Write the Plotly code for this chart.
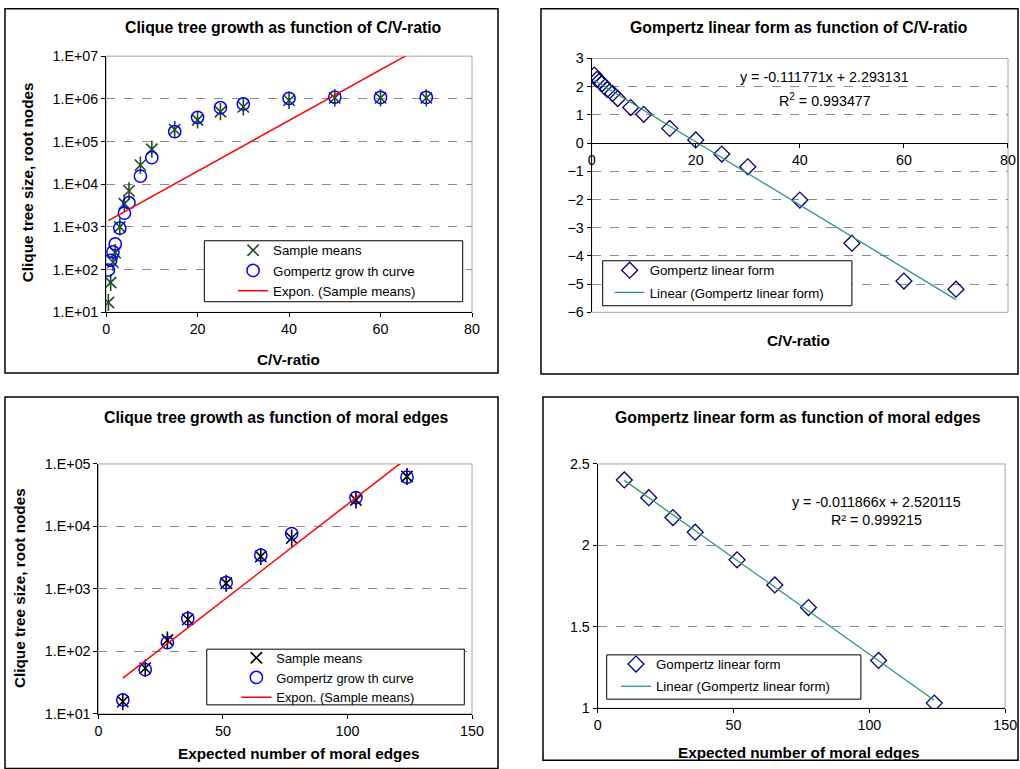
import numpy as np
import plotly.graph_objects as go

# The figure fills the page (body margin removed). Reference pixel coordinates are mapped
# to figure pixels through the capture geometry observed in earlier runs.
W, H = 1020, 769
KX, KY = 1020 / 1036, 769 / 785
S = 1 / KY  # size compensation

# ---------------- data ----------------
cv_ratio = [0.5, 1, 1.5, 2, 3, 4, 5, 7.5, 10, 15, 20, 25, 30, 40, 50, 60, 70]
cv_sample_means = [17, 50, 150, 250, 1000, 3500, 7000, 28000, 66000, 190000, 320000,
                   500000, 650000, 920000, 1050000, 1050000, 1050000]
cv_gompertz = [98, 165, 260, 400, 940, 2100, 3700, 15500, 42000, 170000, 370000,
               620000, 760000, 1030000, 1100000, 1080000, 1080000]
cv_gompertz_linear = [2.41, 2.26, 2.2, 2.11, 1.9, 1.76, 1.58, 1.26, 1.02, 0.52, 0.11,
                      -0.39, -0.84, -2.02, -3.55, -4.89, -5.18]

moral_edges = [9.8, 18.8, 27.7, 35.9, 51.3, 65.2, 77.6, 103.4, 123.9]
me_sample_means = [15.7, 54, 152, 325, 1230, 3300, 6500, 26500, 63000]
me_gompertz = [16.7, 51, 138, 335, 1260, 3480, 7700, 29000, 61500]
me_gompertz_linear = [2.402, 2.293, 2.171, 2.081, 1.911, 1.757, 1.618, 1.293, 1.031]

log_tickvals_7 = [1e1, 1e2, 1e3, 1e4, 1e5, 1e6, 1e7]
log_ticktext_7 = ["1.E+01", "1.E+02", "1.E+03", "1.E+04", "1.E+05", "1.E+06", "1.E+07"]
log_tickvals_5 = [1e1, 1e2, 1e3, 1e4, 1e5]
log_ticktext_5 = ["1.E+01", "1.E+02", "1.E+03", "1.E+04", "1.E+05"]

eq_cv = "y = -0.111771x + 2.293131"
r2_cv = "R<sup>2</sup> = 0.993477"
eq_me = "y = -0.011866x + 2.520115"
r2_me = "R² = 0.999215"

# ---------------- helpers ----------------
FONT = "Liberation Sans, Arial, sans-serif"
def fx(p):
    v = (p / KX - 8) / W
    return min(max(v, 0.0), 1.0)
def fy(p):
    v = 1 - (p / KY - 8) / H
    return min(max(v, 0.0), 1.0)

def exp_fit(x, y):
    x = np.asarray(x, float); y = np.asarray(y, float)
    b, a = np.polyfit(x, np.log(y), 1)
    xs = np.linspace(x.min(), x.max(), 60)
    return xs, np.exp(a + b * xs)

def lin_fit(x, y):
    x = np.asarray(x, float); y = np.asarray(y, float)
    b, a = np.polyfit(x, y, 1)
    xs = np.linspace(x.min(), x.max(), 60)
    return xs, a + b * xs

GREEN_STAR = "#1d4f1d"
BLUE = "#0000ff"
NAVY = "#000080"
TREND_GREEN = "#2e9a66"
MS = 12 * S

fig = go.Figure()

# ---- top-left ----
fig.add_trace(go.Scatter(x=cv_ratio, y=cv_sample_means, mode="markers", name="Sample means",
                         xaxis="x", yaxis="y", legend="legend",
                         marker=dict(symbol="x-thin-open", size=MS - 1, line=dict(color=GREEN_STAR, width=1.6), color=GREEN_STAR)))
fig.add_trace(go.Scatter(x=cv_ratio, y=cv_sample_means, mode="markers", showlegend=False,
                         xaxis="x", yaxis="y",
                         marker=dict(symbol="line-ns-open", size=MS, line=dict(color=GREEN_STAR, width=1.6), color=GREEN_STAR)))
fig.add_trace(go.Scatter(x=cv_ratio, y=cv_gompertz, mode="markers", name="Gompertz grow th curve",
                         xaxis="x", yaxis="y", legend="legend",
                         marker=dict(symbol="circle-open", size=MS, line=dict(color=BLUE, width=1.5), color=BLUE)))
tx, ty = exp_fit(cv_ratio, cv_sample_means)
fig.add_trace(go.Scatter(x=tx, y=ty, mode="lines", name="Expon. (Sample means)",
                         xaxis="x", yaxis="y", legend="legend",
                         line=dict(color="#ff0000", width=1.5)))

# ---- top-right ----
fig.add_trace(go.Scatter(x=cv_ratio, y=cv_gompertz_linear, mode="markers", name="Gompertz linear form",
                         xaxis="x2", yaxis="y2", legend="legend2", legendgroup="a",
                         marker=dict(symbol="diamond-open", size=MS, line=dict(color=NAVY, width=1.3), color=NAVY)))
lx, ly = lin_fit(cv_ratio, cv_gompertz_linear)
fig.add_trace(go.Scatter(x=lx, y=ly, mode="lines", name="Linear (Gompertz linear form)",
                         xaxis="x2", yaxis="y2", legend="legend2", legendgroup="b",
                         line=dict(color=TREND_GREEN, width=1.3)))

# ---- bottom-left ----
fig.add_trace(go.Scatter(x=moral_edges, y=me_sample_means, mode="markers", name="Sample means",
                         xaxis="x3", yaxis="y3", legend="legend3",
                         marker=dict(symbol="x-thin-open", size=MS - 1, line=dict(color="black", width=1.6), color="black")))
fig.add_trace(go.Scatter(x=moral_edges, y=me_sample_means, mode="markers", showlegend=False,
                         xaxis="x3", yaxis="y3",
                         marker=dict(symbol="line-ns-open", size=MS, line=dict(color="black", width=1.6), color="black")))
fig.add_trace(go.Scatter(x=moral_edges, y=me_gompertz, mode="markers", name="Gompertz grow th curve",
                         xaxis="x3", yaxis="y3", legend="legend3",
                         marker=dict(symbol="circle-open", size=MS, line=dict(color=BLUE, width=1.5), color=BLUE)))
tx, ty = exp_fit(moral_edges, me_sample_means)
fig.add_trace(go.Scatter(x=tx, y=ty, mode="lines", name="Expon. (Sample means)",
                         xaxis="x3", yaxis="y3", legend="legend3",
                         line=dict(color="#ff0000", width=1.5)))

# ---- bottom-right ----
fig.add_trace(go.Scatter(x=moral_edges, y=me_gompertz_linear, mode="markers", name="Gompertz linear form",
                         xaxis="x4", yaxis="y4", legend="legend4", legendgroup="a",
                         marker=dict(symbol="diamond-open", size=MS, line=dict(color=NAVY, width=1.3), color=NAVY)))
lx, ly = lin_fit(moral_edges, me_gompertz_linear)
fig.add_trace(go.Scatter(x=lx, y=ly, mode="lines", name="Linear (Gompertz linear form)",
                         xaxis="x4", yaxis="y4", legend="legend4", legendgroup="b",
                         line=dict(color=TREND_GREEN, width=1.3)))

# ---------------- axes ----------------
TF = 14 * S
base = dict(showline=True, linecolor="black", linewidth=1, ticks="outside", ticklen=4,
            tickcolor="black", tickfont=dict(size=TF, color="black", family=FONT),
            zeroline=False, mirror=False)
grid = dict(showgrid=True, gridcolor="#8c8c8c", griddash="dash", gridwidth=1)

TL_y = (fy(312.3), fy(56))
TR_y = (fy(312.3), fy(58.3))
BL_y = (fy(714), fy(464))
BR_y = (fy(708.3), fy(464))

tr_pos = TR_y[0] + (TR_y[1] - TR_y[0]) * 6 / 9

fig.update_layout(
    xaxis=dict(**base, domain=[fx(110), fx(476)], range=[0, 80], tickvals=[0, 20, 40, 60, 80],
               anchor="y", showgrid=False),
    yaxis=dict(**base, **grid, domain=list(TL_y), type="log", range=[1, 7],
               tickvals=log_tickvals_7, ticktext=log_ticktext_7, anchor="x"),
    xaxis2=dict(**base, domain=[fx(595.7), fx(1014)], range=[0, 80],
                tickvals=[0, 20, 40, 60, 80], anchor="free", position=tr_pos, showgrid=False),
    yaxis2=dict(**base, **grid, domain=list(TR_y), range=[-6, 3], tickvals=list(range(-6, 4)),
                anchor="x2"),
    xaxis3=dict(**base, domain=[fx(102.3), fx(476)], range=[0, 150], tickvals=[0, 50, 100, 150],
                anchor="y3", showgrid=False),
    yaxis3=dict(**base, **grid, domain=list(BL_y), type="log", range=[1, 5],
                tickvals=log_tickvals_5, ticktext=log_ticktext_5, anchor="x3"),
    xaxis4=dict(**base, domain=[fx(601.7), fx(1009.3)], range=[0, 150], tickvals=[0, 50, 100, 150],
                anchor="y4", showgrid=False),
    yaxis4=dict(**base, **grid, domain=list(BR_y), range=[1, 2.5], tickvals=[1, 1.5, 2, 2.5],
                anchor="x4"),
)

LF = 13 * S
leg = dict(bgcolor="rgba(0,0,0,0)", borderwidth=0, xanchor="left", yanchor="top",
           font=dict(size=LF, color="black", family=FONT), itemwidth=30)
fig.update_layout(
    legend=dict(**leg, x=fx(237), y=fy(235)),
    legend2=dict(**leg, x=fx(613.7), y=fy(255), tracegroupgap=2),
    legend3=dict(**{**leg, "font": dict(size=12.6 * S, color="black", family=FONT)}, x=fx(240.3), y=fy(643)),
    legend4=dict(**leg, x=fx(620), y=fy(649), tracegroupgap=2),
)

shapes = []
# plot-area borders
for xr, yr in [("x", "y"), ("x2", "y2"), ("x3", "y3"), ("x4", "y4")]:
    shapes.append(dict(type="rect", xref=f"{xr} domain", yref=f"{yr} domain", x0=0, x1=1, y0=0, y1=1,
                       line=dict(color="#a6a6a6", width=1), layer="below"))
# chart-area borders
for (x0, y0, x1, y1) in [(7, 7, 502, 373), (545, 7, 1060, 374), (7, 397, 502, 800), (547, 397, 1060, 768)]:
    shapes.append(dict(type="rect", xref="paper", yref="paper",
                       x0=max(fx(x0), 0.001), x1=fx(x1) if x1 < 1014 else 1.01,
                       y0=fy(y1) if y1 < 760 else -0.01, y1=min(fy(y0), 0.999),
                       line=dict(color="black", width=1.5), layer="below"))
# BR bottom edge at the lowest drawable row
shapes[-1]["y0"] = 0.001
# legend boxes
for (x0, y0, x1, y1) in [(208.3, 240.7, 466.7, 301.7), (606.7, 260.7, 856, 305.7),
                         (210.7, 649.3, 468.3, 705), (610.7, 655, 865, 699.3)]:
    shapes.append(dict(type="rect", xref="paper", yref="paper", x0=fx(x0), x1=fx(x1), y0=fy(y1), y1=fy(y0),
                       line=dict(color="black", width=1), fillcolor="white", layer="above"))
fig.update_layout(shapes=shapes)

ann = []
def text(t, x, y, size=14, bold=False, angle=0):
    ann.append(dict(text=f"<b>{t}</b>" if bold else t, x=fx(x), y=fy(y), xref="paper", yref="paper",
                    showarrow=False, xanchor="center", yanchor="middle", textangle=angle,
                    font=dict(size=size * S, color="black", family=FONT)))

TS = 15.5
text("Clique tree growth as function of C/V-ratio", 287, 27, TS, True)
text("Gompertz linear form as function of C/V-ratio", 803, 27, TS, True)
text("Clique tree growth as function of moral edges", 280, 418, TS, True)
text("Gompertz linear form as function of moral edges", 802, 418, TS, True)
text("C/V-ratio", 292, 359, 15, True)
text("C/V-ratio", 803, 340, 15, True)
text("Expected number of moral edges", 302, 754, 15, True)
text("Expected number of moral edges", 803, 753, 15, True)
text("Clique tree size, root nodes", 31, 182, 15, True, -90)
text("Clique tree size, root nodes", 24, 588, 15, True, -90)
text(eq_cv, 829, 77)
text(r2_cv, 829, 100)
text(eq_me, 881, 502)
text(r2_me, 881, 520)
fig.update_layout(annotations=ann)

fig.update_layout(width=W, height=H, margin=dict(l=0, r=0, t=0, b=0),
                  paper_bgcolor="white", plot_bgcolor="white",
                  font=dict(family=FONT, size=TF, color="black"))

fig.write_html("out.html", config={"displayModeBar": False},
               post_script="document.body.style.margin='0';")
